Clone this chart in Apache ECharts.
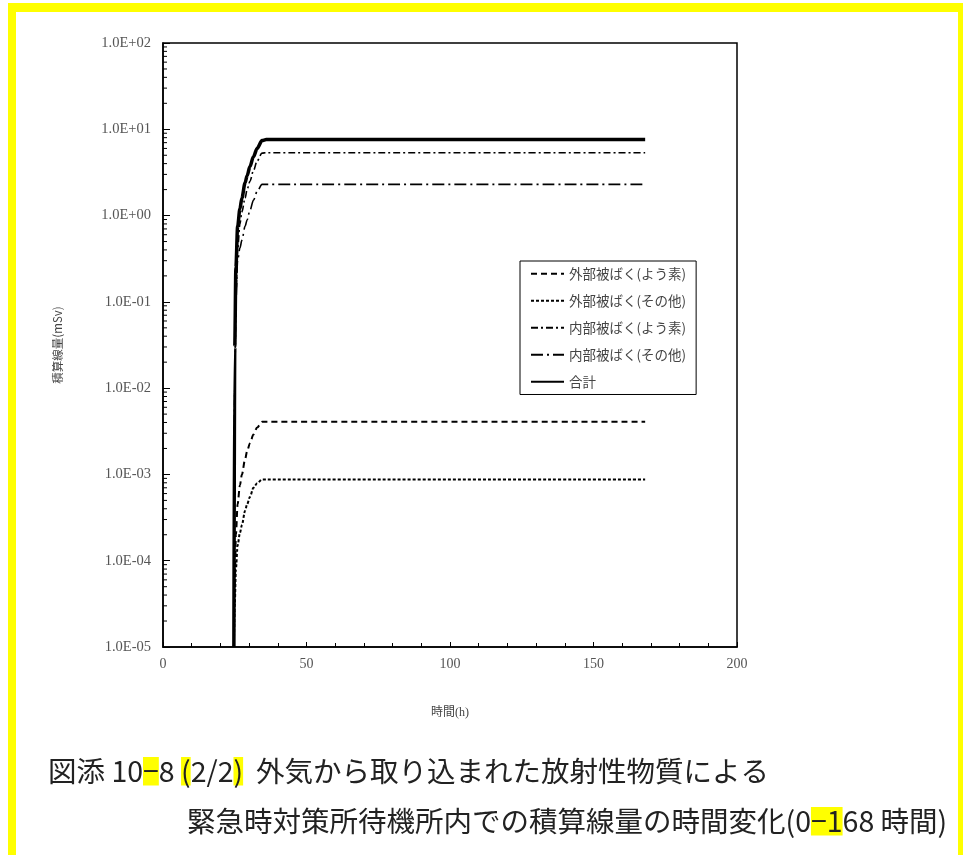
<!DOCTYPE html>
<html>
<head>
<meta charset="utf-8">
<script src="https://cdn.jsdelivr.net/npm/echarts@6/dist/echarts.min.js"></script>
<style>
html,body{margin:0;padding:0;background:#fff;}
#chart{width:963px;height:855px;}
</style>
</head>
<body>
<div id="chart"></div>
<script>
// ---- data ----
const seriesNames = ['外部被ばく(よう素)', '外部被ばく(その他)', '内部被ばく(よう素)', '内部被ばく(その他)', '合計'];
const hours = [24.7, 25.0, 25.4, 26.0, 26.8, 27.5, 28.6, 29.3, 30.3, 31.5, 32.8, 34.5, 36.0, 168];
const extIodine  = [1e-5, 5e-5, 2e-4, 4.5e-4, 7.5e-4, 1.0e-3, 1.5e-3, 1.86e-3, 2.3e-3, 2.9e-3, 3.5e-3, 4.07e-3, 4.07e-3, 4.07e-3];
const extOther   = [1e-5, 3e-5, 8e-5, 1.5e-4, 2.1e-4, 2.6e-4, 3.8e-4, 4.5e-4, 5.5e-4, 7.0e-4, 7.9e-4, 8.75e-4, 8.75e-4, 8.75e-4];
const intIodine  = [1e-5, 0.01, 0.12, 0.4, 0.8, 1.1, 1.6, 2.0, 2.5, 3.3, 4.3, 5.3, 5.35, 5.35];
const intOther   = [1e-5, 0.01, 0.1, 0.3, 0.42, 0.52, 0.75, 0.89, 1.15, 1.5, 1.9, 2.3, 2.3, 2.3];
const total      = [1e-5, 0.03, 0.25, 0.75, 1.2, 1.6, 2.4, 2.9, 3.7, 4.8, 6.0, 7.4, 7.6, 7.6];
const xTicks = [0, 50, 100, 150, 200];
const yMin = 1e-5, yMax = 100;
const yMinorTicks = [];
for (let d = -5; d <= 1; d++) for (let m = 2; m <= 9; m++) yMinorTicks.push([m * Math.pow(10, d)]);

const pair = arr => hours.map((h, i) => [h, arr[i]]);
const serifFont = "'Liberation Serif', 'DejaVu Serif', 'Noto Sans CJK JP', serif";
const cjkFont = "'Noto Sans CJK JP', sans-serif";

function fmtE(v) {
  const e = Math.round(Math.log10(v));
  return '1.0E' + (e < 0 ? '-' : '+') + String(Math.abs(e)).padStart(2, '0');
}

const lineDefs = [
  { name: seriesNames[0], data: extIodine, type: [6, 4], width: 2 },
  { name: seriesNames[1], data: extOther, type: [3, 2], width: 2 },
  { name: seriesNames[2], data: intIodine, type: [7, 3, 2, 3], width: 1.6 },
  { name: seriesNames[3], data: intOther, type: [12, 4, 2, 4], width: 1.6 },
  { name: seriesNames[4], data: total, type: 'solid', width: 3.5 }
];

const chart = echarts.init(document.getElementById('chart'), null, { renderer: 'canvas' });
const option = {
  backgroundColor: '#ffffff',
  animation: false,
  grid: { left: 163, right: 226, top: 43, bottom: 208, show: true, borderColor: '#000', borderWidth: 1.5, backgroundColor: 'transparent' },
  legend: {
    data: seriesNames,
    orient: 'vertical',
    left: 520, top: 261,
    padding: [6, 10, 6, 10],
    itemGap: 13.5,
    itemWidth: 33, itemHeight: 14,
    borderColor: '#000', borderWidth: 1,
    backgroundColor: '#fff',
    itemStyle: { opacity: 0 },
    textStyle: { fontSize: 13.5, color: '#444', fontFamily: cjkFont }
  },
  xAxis: {
    type: 'value', min: 0, max: 200, interval: 50,
    name: '時間(h)', nameLocation: 'middle', nameGap: 60,
    nameTextStyle: { fontSize: 12, color: '#444', fontFamily: serifFont },
    axisLine: { lineStyle: { color: '#000', width: 1.5 } },
    axisTick: { inside: true, length: 5, lineStyle: { color: '#000' } },
    minorTick: { show: true, splitNumber: 5, length: 4, lineStyle: { color: '#000' } },
    axisLabel: { fontSize: 14, color: '#555', fontFamily: serifFont, margin: 10 },
    splitLine: { show: false }
  },
  yAxis: {
    type: 'log', logBase: 10, min: yMin, max: yMax, splitNumber: 7,
    name: '積算線量(mSv)', nameLocation: 'middle', nameGap: 100, nameRotate: 90,
    nameTextStyle: { fontSize: 11.5, color: '#444', fontFamily: cjkFont },
    axisLine: { lineStyle: { color: '#000', width: 1.5 } },
    axisTick: { inside: true, length: 7, lineStyle: { color: '#000' } },
    axisLabel: { fontSize: 14.5, color: '#555', fontFamily: serifFont, margin: 12, formatter: fmtE },
    splitLine: { show: false }
  },
  series: lineDefs.map(d => ({
    name: d.name, type: 'line', data: pair(d.data), symbol: 'none',
    smooth: 0.3, smoothMonotone: 'x', clip: true,
    lineStyle: { color: '#000', width: d.width, type: d.type },
    itemStyle: { color: '#000' },
    z: d.name === '合計' ? 5 : 3
  })).concat([{
    type: 'custom', name: 'minor', silent: true, data: yMinorTicks,
    encode: { y: 0 },
    renderItem: function (params, api) {
      const p = api.coord([0, api.value(0)]);
      return { type: 'line', shape: { x1: p[0], y1: p[1], x2: p[0] + 4, y2: p[1] }, style: { stroke: '#000', lineWidth: 1 } };
    }
  }]),
  graphic: [
    { type: 'rect', shape: { x: 8, y: 3, width: 8, height: 852 }, style: { fill: '#ffff00' }, silent: true },
    { type: 'rect', shape: { x: 8, y: 3, width: 955, height: 9 }, style: { fill: '#ffff00' }, silent: true },
    { type: 'rect', shape: { x: 958, y: 3, width: 5, height: 852 }, style: { fill: '#ffff00' }, silent: true },
    {
      type: 'text', left: 48, top: 757,
      style: {
        text: '図添 10{hl|−}8 {hl|(}2/2{hl|)}  外気から取り込まれた放射性物質による',
        font: '28.5px ' + cjkFont, fill: '#222',
        rich: { hl: { backgroundColor: '#ffff00', fontSize: 28.5, fontFamily: "'Noto Sans CJK JP'", fill: '#222' } }
      }
    },
    {
      type: 'text', left: 187, top: 807,
      style: {
        text: '緊急時対策所待機所内での積算線量の時間変化(0{hl|−1}68 時間)',
        font: '28.5px ' + cjkFont, fill: '#222',
        rich: { hl: { backgroundColor: '#ffff00', fontSize: 28.5, fontFamily: "'Noto Sans CJK JP'", fill: '#222' } }
      }
    }
  ]
};
chart.setOption(option);
</script>
</body>
</html>
